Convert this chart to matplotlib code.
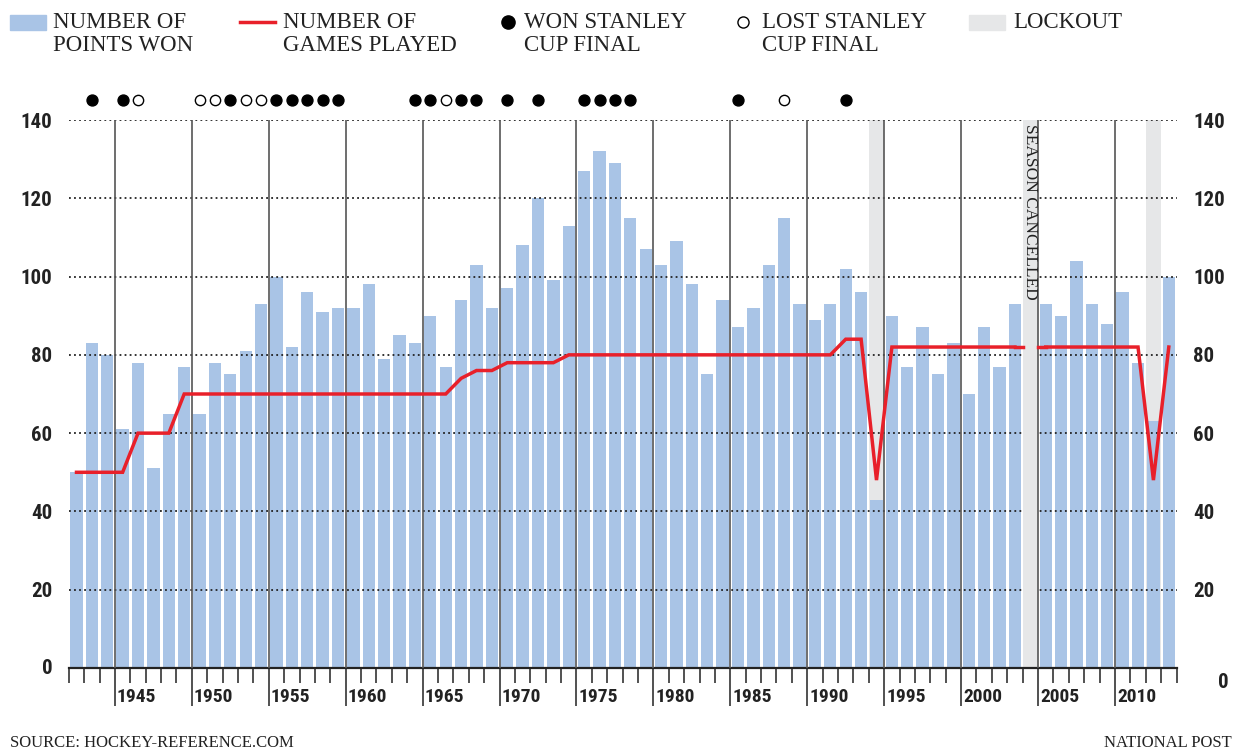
import numpy as np
import matplotlib
matplotlib.use('Agg')
import matplotlib.pyplot as plt
from matplotlib.patches import Rectangle
from matplotlib.lines import Line2D
from matplotlib.ticker import MultipleLocator
import matplotlib.transforms as mtransforms
from matplotlib import font_manager

# season start years, 1942-43 .. 2013-14
seasons = list(range(1942, 2014))
points = [50, 83, 80, 61, 78, 51, 65, 77, 65, 78,
          75, 81, 93, 100, 82, 96, 91, 92, 92, 98,
          79, 85, 83, 90, 77, 94, 103, 92, 97, 108,
          120, 99, 113, 127, 132, 129, 115, 107, 103, 109,
          98, 75, 94, 87, 92, 103, 115, 93, 89, 93,
          102, 96, 43, 90, 77, 87, 75, 83, 70, 87,
          77, 93, np.nan, 93, 90, 104, 93, 88, 96, 78,
          63, 100]
games = ([50] * 4 + [60] * 3 + [70] * 18 + [74] + [76] * 2 + [78] * 4 +
         [80] * 18 + [84] * 2 + [48] + [82] * 9 + [np.nan] + [82] * 7 +
         [48] + [82])
cup_won = [1943, 1945, 1952, 1955, 1956, 1957, 1958, 1959, 1964, 1965,
           1967, 1968, 1970, 1972, 1975, 1976, 1977, 1978, 1985, 1992]
cup_lost = [1946, 1950, 1951, 1953, 1954, 1966, 1988]
lockouts = [1994, 2012]
cancelled = 2004

yticks = [0, 20, 40, 60, 80, 100, 120, 140]

BLUE = '#a9c4e6'
RED = '#e8202a'
GREY = '#e6e7e8'
installed = {f.name for f in font_manager.fontManager.ttflist}
SANS = [f for f in ['Roboto Condensed', 'Liberation Sans Narrow', 'Open Sans Condensed',
                    'DejaVu Sans'] if f in installed] or ['DejaVu Sans']
SERIF = ['Liberation Serif', 'DejaVu Serif']

x = np.array(seasons) + 0.5

fig = plt.figure(figsize=(12.41, 7.54), dpi=100)
ax = fig.add_axes([68.8 / 1241, 86 / 754, (1176.5 - 68.8) / 1241, 548 / 754])
ax.set_xlim(seasons[0], seasons[-1] + 1)
ax.set_ylim(0, 140)

# lockout / cancelled season bands
for yr in lockouts:
    ax.add_patch(Rectangle((yr, 0), 1, 140, color=GREY, lw=0, zorder=0))
ax.add_patch(Rectangle((cancelled, 0), 1, 140, color=GREY, lw=0, zorder=2.5))
ax.text(cancelled + 0.5, 139, 'SEASON CANCELLED', rotation=-90, ha='center',
        va='top', family=SERIF, fontsize=12.5, color='#222', zorder=3)

# grid
for v in yticks[1:]:
    ax.axhline(v, color='#222', lw=1.3, ls=(0, (1, 1.8)), zorder=2)
for yr in range(1945, 2015, 5):
    ax.axvline(yr, color='#555', lw=1.2, zorder=2.6)

ax.bar(x, points, width=0.8, color=BLUE, zorder=1)

ax.plot(x, games, color=RED, lw=2.5, zorder=4, solid_joinstyle='miter')
# carry the games line to the edges of the cancelled season
i = seasons.index(cancelled)
ax.plot([x[i - 1], cancelled], [games[i - 1]] * 2, color=RED, lw=2.5, zorder=4)
ax.plot([cancelled + 1, x[i + 1]], [games[i + 1]] * 2, color=RED, lw=2.5, zorder=4)

# stanley cup finals
ax.scatter(np.array(cup_won) + 0.5, [145.2] * len(cup_won), s=62, c='black',
           clip_on=False, zorder=5)
ax.scatter(np.array(cup_lost) + 0.5, [145.2] * len(cup_lost), s=55, c='white',
           edgecolors='black', linewidths=1.0, clip_on=False, zorder=5)

for s in ['top', 'left', 'right']:
    ax.spines[s].set_visible(False)
ax.spines['bottom'].set_linewidth(1.6)
ax.spines['bottom'].set_color('#222')

ax.xaxis.set_major_locator(MultipleLocator(5))
ax.xaxis.set_minor_locator(MultipleLocator(1))
ax.tick_params(axis='x', which='major', length=27, width=1.2, color='#333',
               labelbottom=False)
ax.tick_params(axis='x', which='minor', length=11, width=1.2, color='#333')
for yr in range(1945, 2015, 5):
    ax.annotate(str(yr), xy=(yr, 0), xytext=(2, -29), textcoords='offset pixels',
                ha='left', va='center', family=SANS, fontweight='bold',
                fontstretch='condensed', fontsize=14, color='#222')

ax.set_yticks(yticks)
ax.tick_params(axis='y', length=0, pad=12, labelright=True, labelsize=15,
               labelcolor='#222')
for lab in ax.get_yticklabels(which='both'):
    lab.set_family(SANS)
    lab.set_fontweight('bold')
    lab.set_fontstretch('condensed')
t0 = ax.yaxis.get_major_ticks()[0]
t0.label2.set_transform(t0.label2.get_transform() +
                        mtransforms.ScaledTranslation(0.25, -0.12, fig.dpi_scale_trans))
t0.label1.set_transform(t0.label1.get_transform() +
                        mtransforms.ScaledTranslation(0, 0.02, fig.dpi_scale_trans))

# legend
H = 754.0
def fx(px):
    return px / 1241.0
def fy(py):
    return 1 - py / H

fig.patches.append(Rectangle((fx(10), fy(30)), fx(36), 15 / H, color=BLUE,
                             transform=fig.transFigure))
fig.patches.append(Rectangle((fx(969), fy(30)), fx(36), 15 / H, color=GREY,
                             transform=fig.transFigure))
fig.lines.append(Line2D([fx(240), fx(275)], [fy(22), fy(22)], color=RED, lw=2.5,
                        transform=fig.transFigure))
fig.lines.append(Line2D([fx(508)], [fy(22)], marker='o', ms=9.5, color='black',
                        ls='none', transform=fig.transFigure))
fig.lines.append(Line2D([fx(743)], [fy(22)], marker='o', ms=8, mfc='white',
                        mec='black', mew=1.0, ls='none', transform=fig.transFigure))
legend_items = [(53, 'NUMBER OF\nPOINTS WON'), (283, 'NUMBER OF\nGAMES PLAYED'),
                (524, 'WON STANLEY\nCUP FINAL'), (762, 'LOST STANLEY\nCUP FINAL'),
                (1013, 'LOCKOUT')]
for px, txt in legend_items:
    fig.text(fx(px), fy(12), txt, ha='left', va='top', family=SERIF, fontsize=16.5,
             linespacing=1.12, color='#222')

fig.text(fx(10), fy(743), 'SOURCE: HOCKEY-REFERENCE.COM', ha='left', va='center',
         family=SERIF, fontsize=12, color='#222')
fig.text(fx(1232), fy(743), 'NATIONAL POST', ha='right', va='center',
         family=SERIF, fontsize=12, color='#222')

fig.savefig('out.png', dpi=100)
